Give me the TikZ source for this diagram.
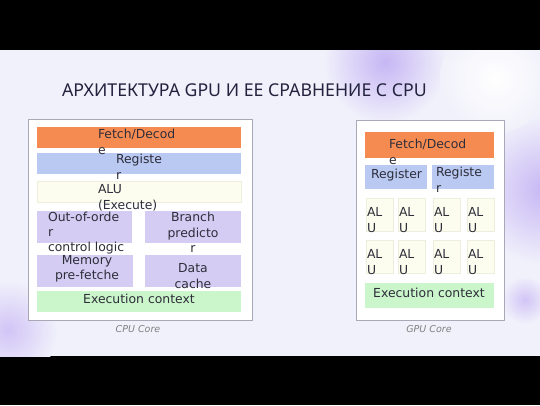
\documentclass[tikz,border=0pt]{standalone}
\usepackage{fontspec}
\setmainfont{DejaVu Sans}
\newfontfamily\titlefont{Noto Sans}
\usepackage{tikz}

\definecolor{slidebg}{HTML}{F1F1FB}
\definecolor{titlecol}{HTML}{23233F}
\definecolor{txtcol}{HTML}{2E2E3A}
\definecolor{fetchcol}{HTML}{F68B52}
\definecolor{regcol}{HTML}{B9C9F2}
\definecolor{alucol}{HTML}{FDFDEF}
\definecolor{aluline}{HTML}{EEEEDC}
\definecolor{ctrlcol}{HTML}{D4CCF3}
\definecolor{execcol}{HTML}{CBF5CB}
\definecolor{coreline}{HTML}{A8A8B6}
\definecolor{blobcol}{HTML}{C6B6F4}

\begin{document}
\begin{tikzpicture}[x=1pt, y=-1pt,
  every node/.style={inner sep=0pt, outer sep=0pt},
  blk/.style={anchor=north west},
  txt/.style={font=\fontsize{12.4}{15.5}\selectfont, text=txtcol, execute at begin node=\strut},
  caption/.style={font=\fontsize{9.5}{11}\selectfont\itshape, text=gray}]
\useasboundingbox (0,0) rectangle (540,405);
\fill[black] (0,0) rectangle (540,405);
\fill[slidebg] (0,50) rectangle (540,356);

% soft shapes of the slide background
\begin{scope}
\clip (0,50) rectangle (540,356);
\shade[inner color=blobcol, outer color=slidebg] (385,62) circle (62pt);
\shade[inner color=blobcol, outer color=slidebg] (545,190) circle (75pt);
\shade[inner color=white, outer color=slidebg] (495,78) circle (55pt);
\shade[inner color=blobcol!80, outer color=slidebg] (8,330) circle (50pt);
\shade[inner color=blobcol!80, outer color=slidebg] (525,300) circle (24pt);
\end{scope}

\node[anchor=base west, font=\titlefont\fontsize{17.7}{21}\selectfont, text=titlecol] (title) at (62,96.5) {АРХИТЕКТУРА GPU И ЕЕ СРАВНЕНИЕ С CPU};

% CPU core
\node[blk, draw=coreline, fill=white, minimum width=224pt, minimum height=201pt] (cpu) at (28,119) {};
\node[blk, fill=fetchcol, minimum width=204pt, minimum height=21pt] (cfetch) at (37,127) {};
\node[blk, fill=regcol, minimum width=204pt, minimum height=21pt] (creg) at (37,153) {};
\node[blk, fill=alucol, draw=aluline, minimum width=204pt, minimum height=21pt] (calu) at (37,181) {};
\node[blk, fill=ctrlcol, minimum width=95pt, minimum height=32pt] (cooo) at (37,211) {};
\node[blk, fill=ctrlcol, minimum width=96pt, minimum height=32pt] (cbranch) at (145,211) {};
\node[blk, fill=ctrlcol, minimum width=96pt, minimum height=32pt] (cmem) at (37,255) {};
\node[blk, fill=ctrlcol, minimum width=96pt, minimum height=32pt] (cdata) at (145,255) {};
\node[blk, fill=execcol, minimum width=204pt, minimum height=21pt] (cexec) at (37,291) {};

\node[txt, anchor=north west, align=left] (cfetchtxt) at (98,129.5) {Fetch/Decod\\e};
\node[txt, anchor=north west, align=left] (cregtxt) at (116,154.5) {Registe\\r};
\node[txt, anchor=north west, align=left] (calutxt) at (98,184.5) {ALU\\(Execute)};
\node[txt, anchor=north west, align=left, font=\fontsize{12.4}{15}\selectfont] (coootxt) at (48,212.5) {Out-of-orde\\r\\control logic};
\node[txt, anchor=north, align=center] (cbranchtxt) at (193,212.5) {Branch\\predicto\\r};
\node[txt, anchor=north, align=center] (cmemtxt) at (87,255) {Memory\\pre-fetche};
\node[txt, anchor=north, align=center] (cdatatxt) at (193,263.5) {Data\\cache};
\node[txt, anchor=north] (cexectxt) at (139,292.5) {Execution context};
\node[caption, anchor=base] (cpucap) at (138,332) {CPU Core};

% GPU core
\node[blk, draw=coreline, fill=white, minimum width=148pt, minimum height=200pt] (gpu) at (356,120) {};
\node[blk, fill=fetchcol, minimum width=129pt, minimum height=26pt] (gfetch) at (365,132) {};
\node[blk, fill=regcol, minimum width=62pt, minimum height=24pt] (greg1) at (365,165) {};
\node[blk, fill=regcol, minimum width=62pt, minimum height=24pt] (greg2) at (432,165) {};
\foreach \cx [count=\i] in {366,398,433,467} {
  \foreach \cy [count=\j] in {198,240} {
    \node[blk, fill=alucol, draw=aluline, minimum width=27.5pt, minimum height=33pt] (galu\i\j) at (\cx,\cy) {};
    \node[txt, anchor=north west, align=left] (galutxt\i\j) at (\cx+1,\cy+9.5) {AL\\U};
  }
}
\node[blk, fill=execcol, minimum width=129pt, minimum height=25pt] (gexec) at (365,283) {};

\node[txt, anchor=north west, align=left] (gfetchtxt) at (389,139.5) {Fetch/Decod\\e};
\node[txt, anchor=north west] (greg1txt) at (371,167.5) {Register};
\node[txt, anchor=north west, align=left] (greg2txt) at (436,167.5) {Registe\\r};
\node[txt, anchor=north] (gexectxt) at (429,286.5) {Execution context};
\node[caption, anchor=base] (gpucap) at (429,332) {GPU Core};
\end{tikzpicture}
\end{document}
